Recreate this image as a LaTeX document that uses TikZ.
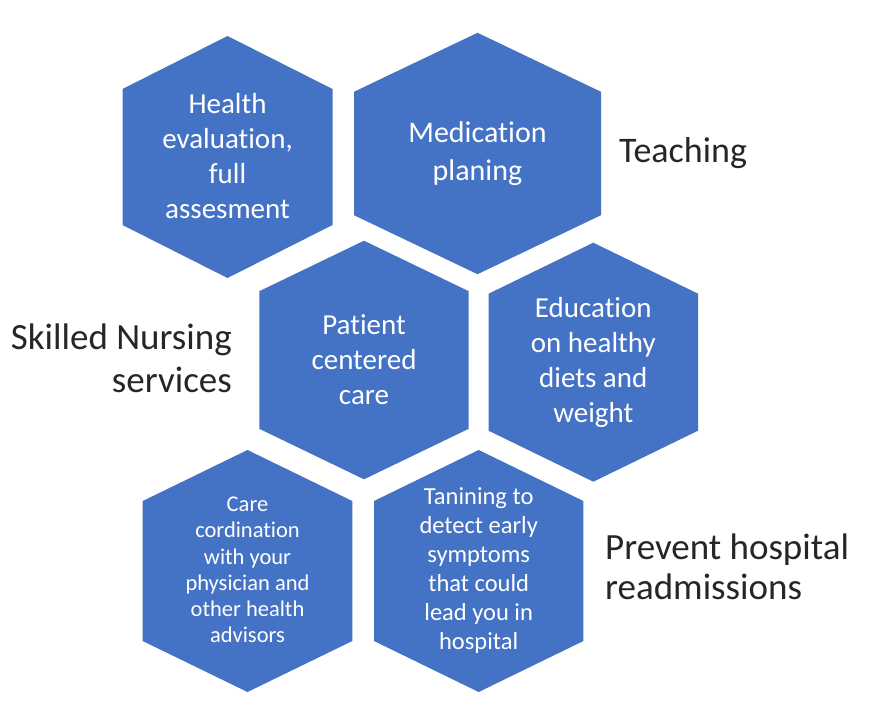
\documentclass[tikz,border=0pt]{standalone}
\usepackage{fontspec}
\setmainfont{Carlito}[Ligatures={NoCommon}]
\definecolor{hexblue}{RGB}{68,114,196}
\newcommand\hexshape[5]{%
  \fill[hexfill] (#1,#2-#4) -- (#1+#3,#2-#4+#5) -- (#1+#3,#2+#4-#5) -- (#1,#2+#4)
    -- (#1-#3,#2+#4-#5) -- (#1-#3,#2-#4+#5) -- cycle;}
\tikzset{
  hexfill/.style={fill=hexblue},
  hextext/.style={text=white, align=center, inner sep=0pt, font=\fontsize{29}{35}\selectfont},
  smalltext/.style={text=white, align=center, inner sep=0pt},
  sidelabel/.style={text=black!85, inner sep=0pt, font=\fontsize{36}{42}\selectfont}
}
\begin{document}
\begin{tikzpicture}[x=1pt,y=-1pt]
\useasboundingbox[fill=white] (0,0) rectangle (876,710);
% hexagons: cx, cy, half-width, half-height, shoulder
\hexshape{227.5}{157}{105}{121}{53}
\hexshape{477.5}{153.5}{123.5}{120.7}{59}
\hexshape{364}{360}{104.7}{119.3}{50.5}
\hexshape{593.3}{362.2}{104.7}{119.5}{51}
\hexshape{247.5}{571}{104.8}{121}{51}
\hexshape{478.7}{571}{104.7}{121}{51}
% texts
\node[hextext] (h1) at (227.5,156) {Health\\evaluation,\\full\\assesment};
\node[hextext, font=\fontsize{30}{38}\selectfont] (h2) at (477.5,154) {Medication\\planing};
\node[hextext] (h3) at (364,360) {Patient\\centered\\care};
\node[hextext] (h4) at (593.3,362.5) {Education\\on healthy\\diets and\\weight};
\node[smalltext, font=\fontsize{22.5}{26.2}\selectfont] (h5) at (247.5,570) {Care\\cordination\\with your\\physician and\\other health\\advisors};
\node[smalltext, font=\fontsize{24.5}{29}\selectfont] (h6) at (478.7,570.5) {Tanining to\\detect early\\symptoms\\that could\\lead you in\\hospital};
% side labels
\node[sidelabel, anchor=base west] (teach) at (619,162) {Teaching};
\node[sidelabel, anchor=east, align=right, font=\fontsize{37}{43}\selectfont] (skill) at (232,358) {Skilled Nursing\\services};
\node[sidelabel, anchor=west, align=left, font=\fontsize{37}{40}\selectfont] (prev) at (605,567) {Prevent hospital\\readmissions};
\end{tikzpicture}
\end{document}
